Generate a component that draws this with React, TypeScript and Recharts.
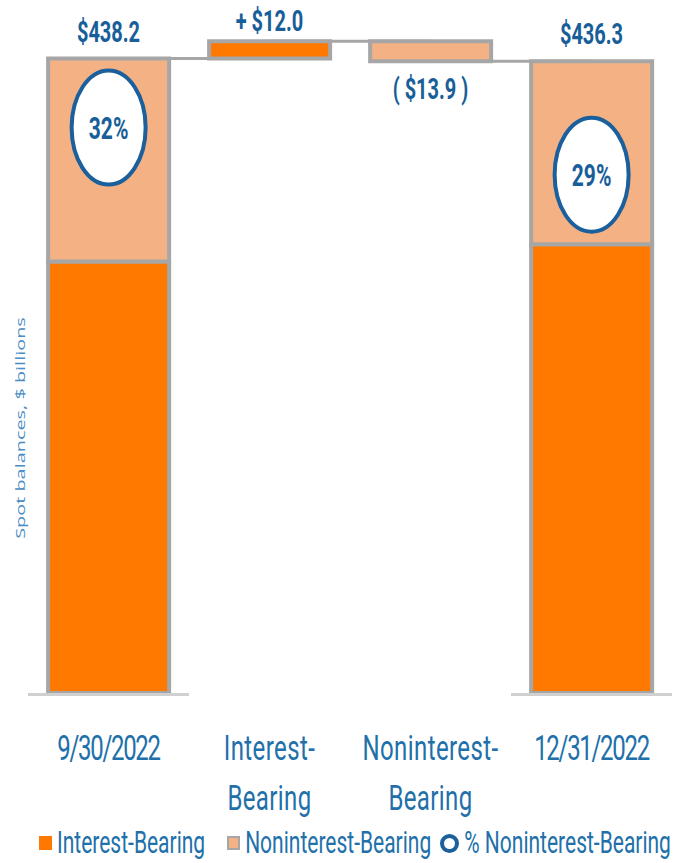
import React from "react";
import {
  ComposedChart,
  Bar,
  Line,
  XAxis,
  YAxis,
  LabelList,
  ReferenceLine,
  Legend,
} from "recharts";

// deposit balances, $ billions
const CATEGORIES = ["9/30/2022", "Interest-Bearing", "Noninterest-Bearing", "12/31/2022"];
const CATEGORY_LINES = [["9/30/2022"], ["Interest-", "Bearing"], ["Noninterest-", "Bearing"], ["12/31/2022"]];
const BASE = [0, 438.2, 436.3, 0];
const INTEREST = [298.0, 12.0, 0, 310.0];
const NONINTEREST = [140.2, 0, 13.9, 126.3];
const VALUE_LABELS = ["$438.2", "+ $12.0", "( $13.9 )", "$436.3"];
const LABEL_BELOW = [false, false, true, false];
const PCT_LABELS = ["32%", "", "", "29%"];

const ORANGE = "#FF7800";
const LIGHT = "#F4B183";
const GREY = "#A6A6A6";
const BLUE = "#2170AA";
const DARK_BLUE = "#185E98";
const FONT = "Roboto, 'Liberation Sans', Arial, sans-serif";
const STRETCH = 1.45;

const data = CATEGORIES.map((name, i) => ({
  name,
  base: BASE[i],
  interest: INTEREST[i],
  nonint: NONINTEREST[i],
  anchor: LABEL_BELOW[i] ? BASE[i] : BASE[i] + INTEREST[i] + NONINTEREST[i],
}));

// levels carried from one bar to the next
const levels = [
  BASE[0] + INTEREST[0] + NONINTEREST[0],
  BASE[1] + INTEREST[1],
  BASE[2],
];

// where the % circle sits inside the noninterest block (fraction of its height)
const CIRCLE_POS = [0.34, 0, 0, 0.62];

const renderTick = (props: any) => {
  const { x, y, payload, width, visibleTicksCount } = props;
  const i = CATEGORIES.indexOf(payload.value);
  const lines = CATEGORY_LINES[i] || [payload.value];
  const bw = width / (visibleTicksCount || 4);
  const isDate = lines.length === 1;
  return (
    <g>
      {(i === 0 || i === 3) && (
        <line x1={x - bw / 2} x2={x + bw / 2} y1={y + 1.5} y2={y + 1.5} stroke="#D0D0D0" strokeWidth={3} />
      )}
      <g transform={`translate(${x},${y + 67}) scale(1,${STRETCH})`}>
        {lines.map((l: string, k: number) => (
          <text
            key={k}
            x={0}
            y={(k * 50) / STRETCH}
            textAnchor="middle"
            fontFamily={FONT}
            fontSize={24}
            letterSpacing={isDate ? -1.3 : 0.4}
            fill={BLUE}
          >
            {l}
          </text>
        ))}
      </g>
    </g>
  );
};

const renderValueLabel = (props: any) => {
  const { x, y, index } = props;
  const below = LABEL_BELOW[index];
  const off = below ? 38 : index === 1 ? -10 : -17;
  return (
    <g transform={`translate(${x},${y + off}) scale(1,${STRETCH})`}>
      <text x={0} y={0} textAnchor="middle" fontFamily={FONT} fontWeight="bold" fontSize={20} fill={DARK_BLUE}>
        {VALUE_LABELS[index]}
      </text>
    </g>
  );
};

const renderCircle = (props: any) => {
  const vb = props.viewBox || props;
  const index = CATEGORIES.indexOf(props.value);
  const label = PCT_LABELS[index];
  if (!label) return null;
  const cx = vb.x + vb.width / 2;
  const cy = vb.y + vb.height * CIRCLE_POS[index];
  return (
    <g>
      <ellipse cx={cx} cy={cy} rx={37} ry={57} fill="#fff" stroke="#1B5F9C" strokeWidth={4} />
      <g transform={`translate(${cx},${cy + 11}) scale(1,${STRETCH})`}>
        <text x={0} y={0} textAnchor="middle" fontFamily={FONT} fontWeight="bold" fontSize={21} fill={DARK_BLUE}>
          {label}
        </text>
      </g>
    </g>
  );
};

const LegendContent = () => {
  const txt = {
    display: "inline-block",
    transform: `scaleY(${STRETCH})`,
    marginLeft: 5,
    flexShrink: 0,
  };
  return (
    <div
      style={{
        display: "flex",
        alignItems: "center",
        paddingLeft: 11,
        paddingTop: 18,
        fontFamily: FONT,
        fontSize: 21,
        lineHeight: "24px",
        color: BLUE,
        whiteSpace: "nowrap",
      }}
    >
      <span style={{ width: 13, height: 14, background: ORANGE, display: "inline-block", flexShrink: 0 }} />
      <span style={txt}>Interest-Bearing</span>
      <span
        style={{
          width: 9,
          height: 10,
          background: LIGHT,
          border: `2px solid ${GREY}`,
          display: "inline-block",
          marginLeft: 22,
          flexShrink: 0,
        }}
      />
      <span style={txt}>Noninterest-Bearing</span>
      <span
        style={{
          width: 11,
          height: 11,
          borderRadius: "50%",
          border: "4px solid #1B5F9C",
          display: "inline-block",
          marginLeft: 9,
          flexShrink: 0,
        }}
      />
      <span style={txt}>% Noninterest-Bearing</span>
    </div>
  );
};

export default function App() {
  return (
    <div style={{ position: "absolute", left: 0, top: 0, width: 684, height: 863, background: "#fff" }}>
      <ComposedChart
        width={684}
        height={863}
        data={data}
        margin={{ top: 27, right: 12, bottom: 0, left: 28 }}
        barCategoryGap="12.5%"
      >
        <XAxis
          dataKey="name"
          interval={0}
          axisLine={false}
          tickLine={false}
          tickSize={0}
          tickMargin={0}
          height={120}
          tick={renderTick}
        />
        <YAxis hide domain={[0, 460]} />
        <Bar dataKey="base" stackId="a" fill="none" stroke="none" isAnimationActive={false} legendType="none" />
        <Bar dataKey="interest" stackId="a" fill={ORANGE} stroke={GREY} strokeWidth={4} isAnimationActive={false} />
        <Bar dataKey="nonint" stackId="a" fill={LIGHT} stroke={GREY} strokeWidth={4} isAnimationActive={false}>
          <LabelList dataKey="name" content={renderCircle} />
        </Bar>
        {levels.map((v, i) => (
          <ReferenceLine
            key={i}
            segment={[
              { x: CATEGORIES[i], y: v },
              { x: CATEGORIES[i + 1], y: v },
            ]}
            stroke={GREY}
            strokeWidth={3}
          />
        ))}
        <Line
          dataKey="anchor"
          stroke="none"
          dot={false}
          activeDot={false}
          legendType="none"
          isAnimationActive={false}
        >
          <LabelList dataKey="anchor" content={renderValueLabel} />
        </Line>
        <Legend verticalAlign="bottom" align="left" height={50} content={() => <LegendContent />} />
        <text
          transform={`translate(22,428) scale(1,1.53) rotate(-90)`}
          textAnchor="middle"
          dominantBaseline="middle"
          fontFamily="'Open Sans', sans-serif"
          fontSize={13}
          fill="#4A8CC4"
        >
          Spot balances, $ billions
        </text>
      </ComposedChart>
    </div>
  );
}
